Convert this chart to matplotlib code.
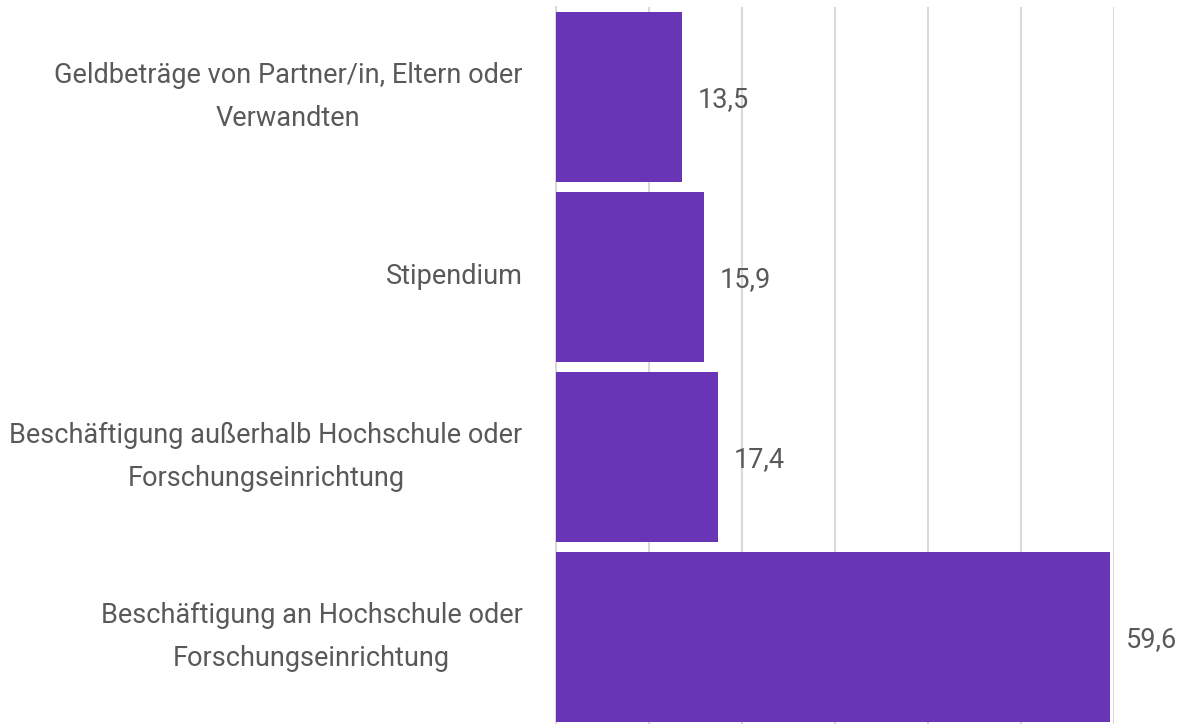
import matplotlib
matplotlib.use("Agg")
import matplotlib.pyplot as plt
from matplotlib import font_manager

categories = [
    "Geldbeträge von Partner/in, Eltern oder\nVerwandten",
    "Stipendium",
    "Beschäftigung außerhalb Hochschule oder\nForschungseinrichtung",
    "Beschäftigung an Hochschule oder\nForschungseinrichtung",
]
values = [13.5, 15.9, 17.4, 59.6]
value_labels = ["13,5", "15,9", "17,4", "59,6"]

BAR_COLOR = "#6735b5"
TEXT_COLOR = "#595959"
GRID_COLOR = "#d9d9d9"

names = {f.name for f in font_manager.fontManager.ttflist}
family = ["Liberation Sans Narrow", "DejaVu Sans"] if "Liberation Sans Narrow" in names else ["Roboto", "DejaVu Sans"]
plt.rcParams["font.family"] = family

W, H = 1204, 724
fig = plt.figure(figsize=(W / 100, H / 100), dpi=100)
ax = fig.add_axes([556 / W, (H - 727) / H, (1114 - 556) / W, 720 / H])

y = list(range(len(values)))
ax.barh(y, values, height=0.944, color=BAR_COLOR, zorder=3)
ax.set_ylim(len(values) - 0.5, -0.5)
ax.set_xlim(0, 60)
ax.set_xticks(range(0, 61, 10))
ax.xaxis.grid(True, color=GRID_COLOR, linewidth=1.5, zorder=0)
ax.tick_params(axis="x", length=0, labelbottom=False)
ax.tick_params(axis="y", length=0)
for s in ["top", "right", "bottom"]:
    ax.spines[s].set_visible(False)
ax.spines["left"].set_color(GRID_COLOR)
ax.spines["left"].set_linewidth(1.5)

ax.set_yticks(y)
ax.set_yticklabels(categories, fontsize=19.5, color=TEXT_COLOR,
                   multialignment="center", linespacing=1.78)
for t in ax.get_yticklabels():
    t.set_va("center")
ax.tick_params(axis="y", pad=24)

for yi, v, lab in zip(y, values, value_labels):
    ax.annotate(lab, (v, yi), xytext=(11.5, -2), textcoords="offset points",
                va="center", ha="left", fontsize=19.5, color=TEXT_COLOR,
                annotation_clip=False)

fig.savefig("out.png", dpi=100)
